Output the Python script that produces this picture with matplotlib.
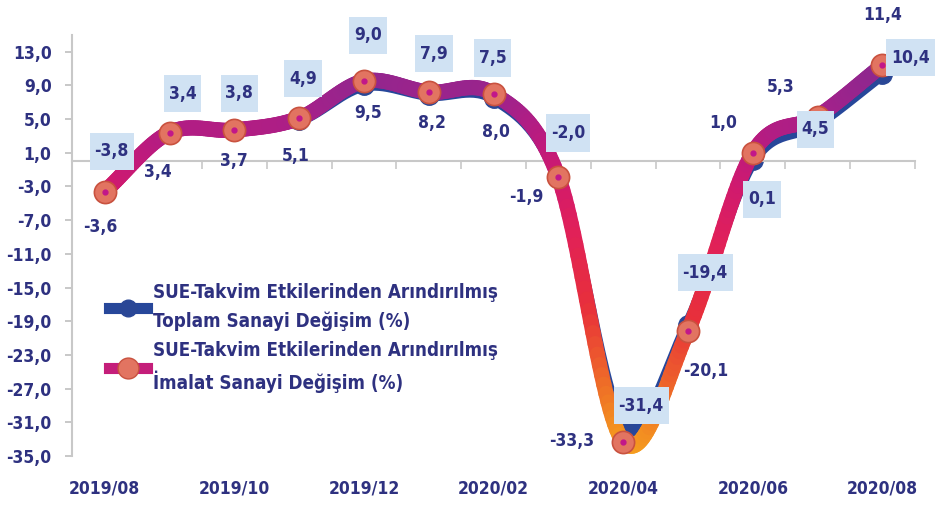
import numpy as np
import matplotlib
matplotlib.use("Agg")
import matplotlib.pyplot as plt
from matplotlib import font_manager as fm
from matplotlib.collections import LineCollection
from matplotlib.colors import LinearSegmentedColormap, Normalize
from matplotlib.lines import Line2D
from matplotlib.path import Path

# --- veriler ---
months = ['2019/08', '2019/09', '2019/10', '2019/11', '2019/12', '2020/01', '2020/02',
          '2020/03', '2020/04', '2020/05', '2020/06', '2020/07', '2020/08']
toplam = [-3.8, 3.4, 3.8, 4.9, 9.0, 7.9, 7.5, -2.0, -31.4, -19.4, 0.1, 4.5, 10.4]
imalat = [-3.6, 3.4, 3.7, 5.1, 9.5, 8.2, 8.0, -1.9, -33.3, -20.1, 1.0, 5.3, 11.4]
lbl_toplam = 'SUE-Takvim Etkilerinden Arındırılmış\nToplam Sanayi Değişim (%)'
lbl_imalat = 'SUE-Takvim Etkilerinden Arındırılmış\nİmalat Sanayi Değişim (%)'

# etiket kaydirmalari (piksel)
off_toplam = [(7, 42), (13, 39), (5, 36), (4, 41), (4, 50), (5, 41), (-1, 40),
              (10, 45), (18, 20), (17, 52), (9, -39), (-2, -6), (28, 16)]
off_imalat = [(-5, -35), (-12, -39), (-1, -31), (-3, -38), (4, -32), (3, -31), (2, -38),
              (-32, -20), (-52, 1), (18, -40), (-30, 30), (-37, 30), (0, 50)]

NAVY = '#2E3180'

# dar kalin font bul (Arial Narrow benzeri)
font_path = None
for key in ['LiberationSansNarrow-Bold.', 'DejaVuSansCondensed-Bold.', 'NotoSans-CondensedBold.',
            'OpenSans-CondensedBold.', 'RobotoCondensed-Bold.', 'Roboto_Condensed-Bold.']:
    hits = [f.fname for f in fm.fontManager.ttflist if key in f.fname.split('/')[-1]]
    if hits:
        font_path = hits[0]
        break


def fp(size):
    if font_path:
        return fm.FontProperties(fname=font_path, size=size)
    return fm.FontProperties(family='Liberation Sans', weight='bold', size=size)


def tallbox(x0, y0, width, height, mutation_size):
    # yatayda dar, dikeyde genis kutu
    px, py = 0.28 * mutation_size, 0.55 * mutation_size
    x0, y0 = x0 - px, y0 - py
    w, h = width + 2 * px, height + 2 * py
    return Path([(x0, y0), (x0 + w, y0), (x0 + w, y0 + h), (x0, y0 + h), (x0, y0)], closed=True)


def smooth(x, y, n=30):
    # catmull-rom, excel'deki yumusatilmis cizgi gibi
    x = np.asarray(x, float); y = np.asarray(y, float)
    px = np.concatenate([[2*x[0]-x[1]], x, [2*x[-1]-x[-2]]])
    py = np.concatenate([[2*y[0]-y[1]], y, [2*y[-1]-y[-2]]])
    xs, ys = [], []
    t = np.linspace(0, 1, n, endpoint=False)
    for i in range(1, len(px)-2):
        for p, out in ((px, xs), (py, ys)):
            p0, p1, p2, p3 = p[i-1], p[i], p[i+1], p[i+2]
            out.extend(0.5*((2*p1) + (-p0+p2)*t + (2*p0-5*p1+4*p2-p3)*t**2 + (-p0+3*p1-3*p2+p3)*t**3))
    xs.append(x[-1]); ys.append(y[-1])
    return np.array(xs), np.array(ys)


fig = plt.figure(figsize=(9.52, 5.05), dpi=100)
ax = fig.add_axes([0.076, 0.097, 0.885, 0.834])

xi = np.arange(len(months))

# Toplam (mavi)
sx, sy = smooth(xi, toplam)
ax.plot(sx, sy, color='#27479A', lw=9, solid_capstyle='round', zorder=2)
ax.plot(xi, toplam, 'o', ms=14, color='#2A4796', zorder=2)

# Imalat (gradyan)
mx, my = smooth(xi, imalat)
pts = np.array([mx, my]).T.reshape(-1, 1, 2)
segs = np.concatenate([pts[:-1], pts[1:]], axis=1)
cmap = LinearSegmentedColormap.from_list('grd', [
    (0.0, '#F6A51E'), (0.12, '#F07A24'), (0.35, '#E8303A'), (0.55, '#E0205A'),
    (0.68, '#D01A6E'), (0.77, '#BC1A7E'), (0.86, '#A4218A'), (0.94, '#92268E'), (1.0, '#88288E')])
lc = LineCollection(segs, cmap=cmap, norm=Normalize(-35, 13), lw=11, capstyle='round', zorder=3)
lc.set_array((my[:-1] + my[1:]) / 2)
ax.add_collection(lc)
ax.plot(xi, imalat, 'o', ms=16, mfc='#E27461', mec='#C9523F', mew=1.2, zorder=4)
ax.plot(xi, imalat, 'o', ms=3.5, color='#C2178A', zorder=5)

# etiketler
for i, v in enumerate(toplam):
    ax.annotate(f'{v:.1f}'.replace('.', ','), (i, v), xytext=off_toplam[i], textcoords='offset pixels',
                ha='center', va='center', fontproperties=fp(12.5), color=NAVY, zorder=6,
                bbox=dict(boxstyle=tallbox, fc='#D0E2F3', ec='none'))
for i, v in enumerate(imalat):
    ax.annotate(f'{v:.1f}'.replace('.', ','), (i, v), xytext=off_imalat[i], textcoords='offset pixels',
                ha='center', va='center', fontproperties=fp(12.5), color=NAVY, zorder=6)

# eksenler
ax.set_xlim(-0.5, 12.5)
ax.set_ylim(-35, 15)
yt = np.arange(-35, 14, 4)
ax.set_yticks(yt)
ax.set_yticklabels([f'{v:.1f}'.replace('.', ',') for v in yt])
ax.tick_params(axis='y', colors='#BFBFBF', labelcolor=NAVY, length=5, width=1.2, pad=10)
for t in ax.get_yticklabels():
    t.set_fontproperties(fp(12.5))
ax.spines['left'].set_color('#C8C8C8')
ax.spines['left'].set_linewidth(1.5)
ax.spines['top'].set_visible(False)
ax.spines['right'].set_visible(False)
ax.spines['bottom'].set_position(('data', 0))
ax.spines['bottom'].set_color('#C8C8C8')
ax.spines['bottom'].set_linewidth(1.5)
ax.set_xticks(np.arange(0.5, 13, 1))
ax.set_xticklabels([])
ax.tick_params(axis='x', colors='#C8C8C8', length=6, width=1.2, direction='out')

sec = ax.secondary_xaxis(-0.02)
sec.set_xticks(xi[::2])
sec.set_xticklabels(months[::2])
sec.tick_params(length=0, labelcolor=NAVY, pad=11)
for t in sec.get_xticklabels():
    t.set_fontproperties(fp(12.5))
sec.spines['bottom'].set_visible(False)

# lejant
h1 = Line2D([], [], color='#27479A', lw=8, marker='o', ms=12, mfc='#2A4796', mec='#2A4796')
h2 = Line2D([], [], color='#C41E7A', lw=8, marker='o', ms=15, mfc='#E27461', mec='#C9523F')
leg = ax.legend([h1, h2], [lbl_toplam, lbl_imalat], loc='upper left', bbox_to_anchor=(0.024, 0.45),
                frameon=False, handlelength=2.0, handletextpad=0.3, labelspacing=0.5,
                prop=fp(13.5))
for t in leg.get_texts():
    t.set_color(NAVY)
    t.set_linespacing(1.6)

fig.savefig('out.png', dpi=100)
